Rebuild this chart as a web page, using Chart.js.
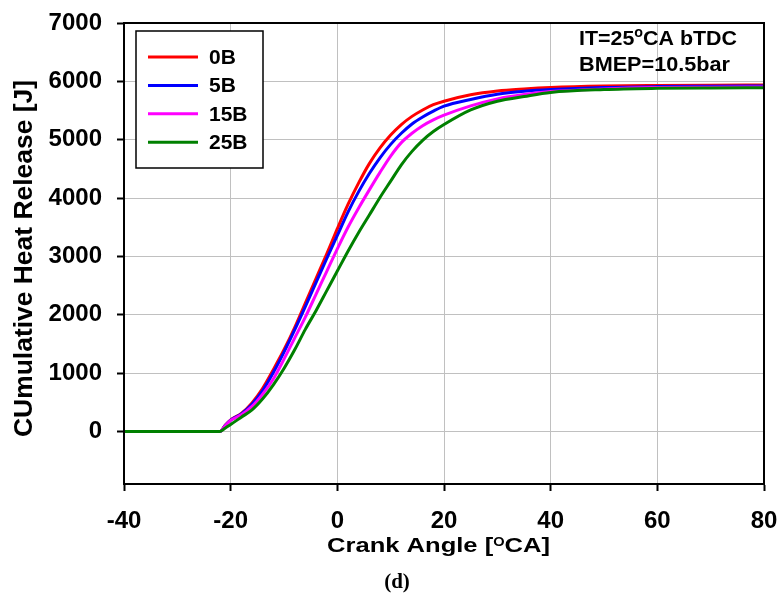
<!DOCTYPE html>
<html>
<head>
<meta charset="utf-8">
<script src="https://cdn.jsdelivr.net/npm/chart.js@4.4.0/dist/chart.umd.min.js"></script>
<style>
html, body { margin: 0; padding: 0; background: #fff; }
#wrap { width: 778px; height: 595px; }
</style>
</head>
<body>
<div id="wrap"><canvas id="HeatRelease" width="778" height="595"></canvas></div>
<script>
// crank angle [deg CA] and cumulative heat release [J] per case
var CrankAngle = [-40, -30, -22, -21, -20, -18, -16, -14, -12, -10, -8, -6, -4, -2, 0, 2, 4, 6, 8, 10, 12, 14, 16, 18, 20, 25, 30, 35, 40, 50, 60, 70, 80];
var Heat0B  = [0, 0, 0, 110, 200, 310, 490, 740, 1060, 1400, 1780, 2200, 2620, 3040, 3475, 3890, 4260, 4590, 4860, 5080, 5260, 5400, 5510, 5600, 5660, 5770, 5835, 5870, 5895, 5920, 5930, 5935, 5937];
var Heat5B  = [0, 0, 0, 105, 195, 300, 465, 700, 1010, 1360, 1740, 2140, 2550, 2960, 3360, 3760, 4110, 4420, 4690, 4920, 5110, 5270, 5390, 5490, 5575, 5690, 5780, 5830, 5860, 5895, 5910, 5916, 5920];
var Heat15B = [0, 0, 0, 100, 190, 285, 430, 640, 900, 1240, 1600, 1960, 2350, 2740, 3130, 3500, 3830, 4140, 4440, 4720, 4950, 5110, 5240, 5340, 5420, 5580, 5700, 5775, 5825, 5870, 5893, 5900, 5905];
var Heat25B = [0, 0, 0, 60, 120, 245, 370, 560, 800, 1080, 1400, 1750, 2070, 2410, 2750, 3090, 3410, 3710, 4010, 4290, 4570, 4800, 4990, 5140, 5260, 5510, 5660, 5740, 5810, 5860, 5880, 5888, 5892];

var Labels = ['0B', '5B', '15B', '25B'];
var Colours = ['#ff0000', '#0000ff', '#ff00ff', '#008000'];
var XTicks = [-40, -20, 0, 20, 40, 60, 80];
var YTicks = [0, 1000, 2000, 3000, 4000, 5000, 6000, 7000];

function Points(ys) {
	return CrankAngle.map(function(x, i) { return {x: x, y: ys[i]}; });
}

// text with optional superscript parts, squeezed/stretched to a given width
function DrawRich(ctx, parts, x, y, size, fitWidth) {
	var total = 0;
	parts.forEach(function(p) {
		ctx.font = 'bold ' + (p.size || size) + 'px "Liberation Sans", Arial, sans-serif';
		p.w = ctx.measureText(p.t).width;
		total += p.w;
	});
	var sx = fitWidth ? fitWidth / total : 1;
	ctx.save();
	ctx.translate(x, y);
	ctx.scale(sx, 1);
	ctx.textAlign = 'left';
	ctx.textBaseline = 'alphabetic';
	ctx.fillStyle = '#000';
	var cx = 0;
	parts.forEach(function(p) {
		ctx.font = 'bold ' + (p.size || size) + 'px "Liberation Sans", Arial, sans-serif';
		ctx.fillText(p.t, cx, -(p.rise || 0));
		cx += p.w;
	});
	ctx.restore();
}

var Decorations = {
	id: 'decorations',
	afterDraw: function(chart) {
		var ctx = chart.ctx, a = chart.chartArea;
		ctx.save();

		// frame
		ctx.strokeStyle = '#000';
		ctx.lineWidth = 2;
		ctx.strokeRect(a.left, a.top, a.right - a.left, a.bottom - a.top);

		// legend box
		ctx.lineWidth = 1.5;
		ctx.fillStyle = '#fff';
		ctx.fillRect(136, 31, 127, 137);
		ctx.strokeRect(136, 31, 127, 137);
		chart.data.datasets.forEach(function(ds, i) {
			var ly = 57 + i * 28.4;
			ctx.strokeStyle = ds.borderColor;
			ctx.lineWidth = 3;
			ctx.beginPath();
			ctx.moveTo(148, ly);
			ctx.lineTo(198, ly);
			ctx.stroke();
			ctx.fillStyle = '#000';
			ctx.font = 'bold 21px "Liberation Sans", Arial, sans-serif';
			ctx.textAlign = 'left';
			ctx.textBaseline = 'middle';
			ctx.fillText(ds.label, 209, ly + 1);
		});

		// conditions
		DrawRich(ctx, [{t: 'IT=25'}, {t: 'o', size: 14, rise: 8}, {t: 'CA bTDC'}], 579, 45, 21, 158);
		DrawRich(ctx, [{t: 'BMEP=10.5bar'}], 579, 71, 21, 151);

		// axis titles
		DrawRich(ctx, [{t: 'Crank Angle ['}, {t: 'O', size: 12, rise: 6}, {t: 'CA]'}], 327, 552, 21, 223);
		ctx.save();
		ctx.translate(32, 437);
		ctx.rotate(-Math.PI / 2);
		DrawRich(ctx, [{t: 'CUmulative Heat Release [J]'}], 0, 0, 25, 357);
		ctx.restore();

		// caption
		ctx.fillStyle = '#000';
		ctx.font = 'bold 21px "Liberation Serif", "Times New Roman", serif';
		ctx.textAlign = 'center';
		ctx.textBaseline = 'alphabetic';
		ctx.fillText('(d)', 397, 588);

		ctx.restore();
	}
};

var Datasets = [Heat0B, Heat5B, Heat15B, Heat25B].map(function(ys, i) {
	return {
		label: Labels[i],
		data: Points(ys),
		borderColor: Colours[i],
		backgroundColor: Colours[i],
		borderWidth: 3,
		pointRadius: 0,
		fill: false,
		cubicInterpolationMode: 'monotone',
		order: 3 - i
	};
});

var TickFont = {family: '"Liberation Sans", Arial, sans-serif', size: 24, weight: 'bold'};

function Plain(v) { return String(v); }

var canvas = document.getElementById('HeatRelease').getContext('2d');
var HeatChart = new Chart(canvas, {
	type: 'line',
	data: {datasets: Datasets},
	options: {
		responsive: false,
		animation: false,
		devicePixelRatio: 1,
		layout: {padding: {top: 23, right: 14, left: 0, bottom: 0}},
		plugins: {
			legend: {display: false},
			tooltip: {enabled: false}
		},
		scales: {
			x: {
				type: 'linear',
				min: -40,
				max: 80,
				afterBuildTicks: function(s) { s.ticks = XTicks.map(function(v) { return {value: v}; }); },
				afterFit: function(s) { s.height = 111; s.paddingLeft = 0; s.paddingRight = 0; },
				ticks: {color: '#000', font: TickFont, padding: 16, maxRotation: 0, callback: Plain},
				grid: {color: '#c0c0c0', lineWidth: 1, tickColor: '#000', tickLength: 7, tickWidth: 2},
				border: {color: '#000', width: 2}
			},
			y: {
				type: 'linear',
				min: -900,
				max: 7000,
				afterBuildTicks: function(s) { s.ticks = YTicks.map(function(v) { return {value: v}; }); },
				afterFit: function(s) { s.width = 124; s.paddingTop = 0; s.paddingBottom = 0; },
				ticks: {color: '#000', font: TickFont, padding: 15, callback: Plain},
				grid: {color: '#c0c0c0', lineWidth: 1, tickColor: '#000', tickLength: 7, tickWidth: 2},
				border: {color: '#000', width: 2}
			}
		}
	},
	plugins: [Decorations]
});
</script>
</body>
</html>
